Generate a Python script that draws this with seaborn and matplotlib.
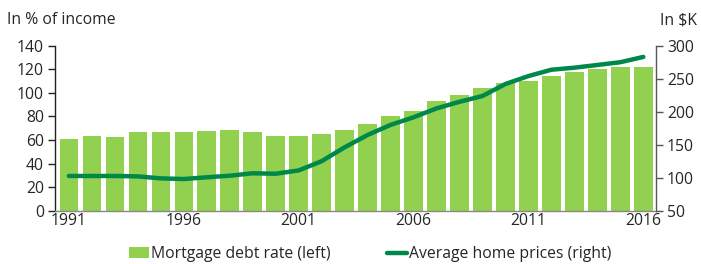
import matplotlib
matplotlib.use("Agg")
import matplotlib.pyplot as plt
import seaborn as sns
import pandas as pd
from matplotlib.patches import Patch
from matplotlib.lines import Line2D

years = list(range(1991, 2017))
mortgage_debt = [61, 63.4, 62.3, 66.8, 66.5, 66.8, 67.6, 68.4, 66.5, 63.6, 63.6, 65,
                 68.4, 73.5, 80.3, 84.8, 93, 98.4, 104, 108, 110, 114.2, 117.3, 120.4,
                 121.9, 121.9]
home_prices = [102.6, 102.6, 102.6, 102, 99, 98, 100.6, 103, 106.7, 106, 111, 125,
               146, 164.7, 180, 191.5, 205, 215, 223.8, 242, 254, 263.6, 266.7, 270.8,
               275, 283]
xtick_labels = ["1991", "1996", "2001", "2006", "2011", "2016"]

sns.set_theme(style="white")
plt.rcParams['font.family'] = ['Open Sans', 'DejaVu Sans']

bar_color = "#92D050"
line_color = "#00884A"
FS = 11.3

df = pd.DataFrame({"idx": range(len(years)), "year": years,
                   "debt": mortgage_debt, "price": home_prices})

fig = plt.figure(figsize=(7.01, 2.64), dpi=100)
ax = fig.add_axes([55/701, 1-210.7/264, (656-55)/701, (210.7-45.7)/264])
sns.barplot(data=df, x="idx", y="debt", color=bar_color, saturation=1,
            width=0.8, ax=ax, edgecolor="none", native_scale=True)
ax.set_xlim(-0.6, 25.55)
ax.set_ylim(0, 140)
ax.set_yticks(range(0, 141, 20))
ax.set_xticks([0, 5, 10, 15, 20, 25])
ax.set_xticklabels(xtick_labels)
ax.set_xlabel("")
ax.set_ylabel("")
ax.tick_params(axis="y", length=5, width=1, color="#222222", direction="out",
               labelsize=FS, pad=3, left=True)
ax.tick_params(axis="x", length=0, labelsize=FS, pad=2)
for s in ["top", "right"]:
    ax.spines[s].set_visible(False)
ax.spines["left"].set_color("#222222")
ax.spines["left"].set_linewidth(1)
ax.spines["bottom"].set_color("#888888")
ax.spines["bottom"].set_linewidth(1)

ax2 = ax.twinx()
sns.lineplot(data=df, x="idx", y="price", color=line_color, linewidth=3.2,
             ax=ax2, legend=False)
ax2.set_ylim(50, 300)
ax2.set_yticks(range(50, 301, 50))
ax2.set_ylabel("")
ax2.set_xlabel("")
ax2.tick_params(axis="y", length=5, width=1, color="#555555", direction="out",
                labelsize=FS, pad=3, right=True)
for s in ["top", "left", "bottom"]:
    ax2.spines[s].set_visible(False)
ax2.spines["right"].set_color("#555555")
ax2.spines["right"].set_linewidth(1)
ax2.set_xlim(-0.6, 25.55)

fig.text(7/701, 1-20/264, "In % of income", fontsize=FS, ha="left", va="center")
fig.text(660/701, 1-20/264, "In $K", fontsize=FS, ha="left", va="center")

handles = [Patch(facecolor=bar_color, edgecolor="none"),
           Line2D([0], [0], color=line_color, linewidth=3.2)]
labels = ["Mortgage debt rate (left)", "Average home prices (right)"]
fig.legend(handles, labels, loc="center", bbox_to_anchor=(370/701, 1-254/264),
           ncol=2, frameon=False, fontsize=FS, handlelength=1.3,
           handletextpad=0.1, columnspacing=3.6, borderaxespad=0)

fig.savefig("out.png", dpi=100)
